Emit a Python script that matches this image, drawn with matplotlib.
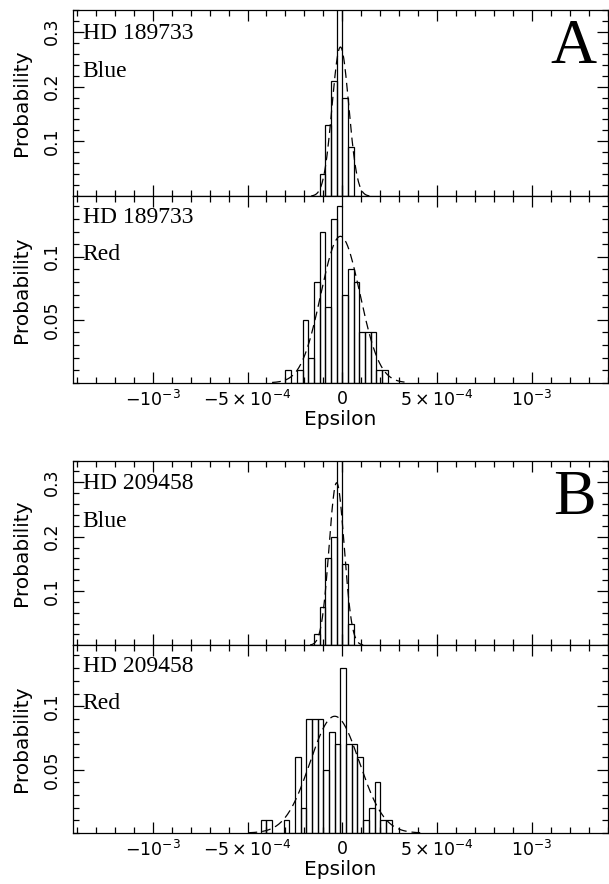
import matplotlib
matplotlib.use("Agg")
import matplotlib.pyplot as plt
import numpy as np
from matplotlib.ticker import MultipleLocator, FixedLocator, FixedFormatter

plt.rcParams['font.family'] = ['DejaVu Sans']
plt.rcParams['mathtext.default'] = 'regular'

# histogram data (counts per bin, 100 values each), bin width 3e-5
bin_width = 3e-5
blue_a_left = -1.2e-4
blue_a_counts = [4, 13, 21, 35, 18, 9]
red_a_left = -3.0e-4
red_a_counts = [1, 0, 1, 5, 2, 8, 12, 6, 13, 14, 7, 9, 8, 4, 4, 4, 1, 1]
blue_b_left = -1.5e-4
blue_b_counts = [2, 7, 16, 20, 36, 15, 4]
red_b_left = -4.3e-4
red_b_counts = [1, 1, 0, 0, 1, 0, 6, 2, 9, 9, 9, 5, 8, 7, 13, 7, 7, 6, 1, 2, 4, 1, 1]

# gaussian fits (mean, sigma)
fit_blue_a = (-1e-5, 4.4e-5)
fit_red_a = (-1e-5, 1.03e-4)
fit_blue_b = (-3e-5, 4.0e-5)
fit_red_b = (-4e-5, 1.3e-4)

stars = ['HD 189733', 'HD 209458']
xtick_vals = [-1e-3, -5e-4, 0, 5e-4, 1e-3]
xtick_labels = [r'$-10^{-3}$', r'$-5\times10^{-4}$', '0', r'$5\times10^{-4}$', r'$10^{-3}$']

fig = plt.figure(figsize=(6.09, 8.84), dpi=100)
L, W = 0.12, 0.878
boxes = [(0.778, 0.211), (0.567, 0.211), (0.270, 0.209), (0.0577, 0.2123)]


def panel(box, left, counts, fit, star, band, big, bottom):
    ax = fig.add_axes([L, box[0], W, box[1]])
    counts = np.array(counts, float)
    prob = counts / counts.sum()
    edges = left + bin_width * np.arange(len(counts))
    ax.bar(edges, prob, width=bin_width, align='edge', fill=False,
           edgecolor='black', linewidth=0.9)
    mu, sig = fit
    xx = np.linspace(mu - 3.5 * sig, mu + 3.5 * sig, 200)
    yy = bin_width / (sig * np.sqrt(2 * np.pi)) * np.exp(-0.5 * ((xx - mu) / sig) ** 2)
    ax.plot(xx, yy, color='black', lw=0.9, dashes=(7, 4))
    ax.set_xlim(-1.42e-3, 1.4e-3)
    ax.xaxis.set_major_locator(FixedLocator(xtick_vals))
    ax.xaxis.set_minor_locator(MultipleLocator(1e-4))
    if band == 'Blue':
        ax.set_ylim(0, 0.34)
        ax.yaxis.set_major_locator(FixedLocator([0.1, 0.2, 0.3]))
        ax.yaxis.set_minor_locator(MultipleLocator(0.02))
        ax.set_yticklabels(['0.1', '0.2', '0.3'])
        hy, by = 0.875, 0.67
    else:
        ax.set_ylim(0, 0.148)
        ax.yaxis.set_major_locator(FixedLocator([0.05, 0.1]))
        ax.yaxis.set_minor_locator(MultipleLocator(0.01))
        ax.set_yticklabels(['0.05', '0.1'])
        hy, by = 0.885, 0.69
    ax.tick_params(which='both', direction='in', top=True, right=True)
    ax.tick_params(which='major', length=8, width=0.9)
    ax.tick_params(which='minor', length=4, width=0.9)
    ax.tick_params(axis='y', labelsize=12.5, pad=9)
    for t in ax.get_yticklabels():
        t.set_rotation(90)
        t.set_va('center')
    if bottom:
        ax.xaxis.set_major_formatter(FixedFormatter(xtick_labels))
        ax.tick_params(axis='x', labelsize=12.5, pad=5)
        ax.set_xlabel('Epsilon', fontsize=14.5, labelpad=0)
    else:
        ax.set_xticklabels([])
    ax.set_ylabel('Probability', fontsize=14.5, labelpad=8)
    for s in ax.spines.values():
        s.set_linewidth(0.9)
    ax.text(0.018, hy, star, transform=ax.transAxes, fontsize=17,
            family='Liberation Serif', va='center', ha='left')
    ax.text(0.018, by, band, transform=ax.transAxes, fontsize=17,
            family='Liberation Serif', va='center', ha='left')
    if big:
        ax.text(0.978, 0.95, big, transform=ax.transAxes, fontsize=46,
                family='Liberation Serif', va='top', ha='right')
    return ax


panel(boxes[0], blue_a_left, blue_a_counts, fit_blue_a, stars[0], 'Blue', 'A', False)
panel(boxes[1], red_a_left, red_a_counts, fit_red_a, stars[0], 'Red', None, True)
panel(boxes[2], blue_b_left, blue_b_counts, fit_blue_b, stars[1], 'Blue', 'B', False)
panel(boxes[3], red_b_left, red_b_counts, fit_red_b, stars[1], 'Red', None, True)

fig.savefig('out.png', dpi=100)
